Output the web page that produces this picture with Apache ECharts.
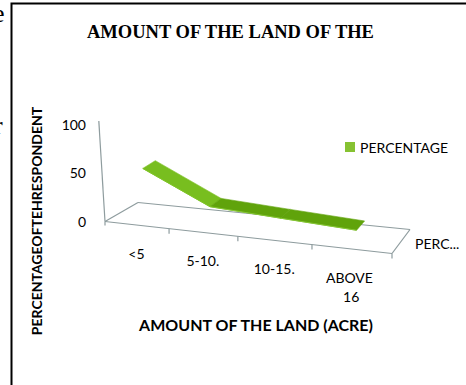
<!DOCTYPE html>
<html>
<head>
<meta charset="utf-8">
<script src="https://cdn.jsdelivr.net/npm/echarts@6/dist/echarts.min.js"></script>
<style>
  html, body { margin: 0; padding: 0; background: #fff; }
  #chart { width: 466px; height: 385px; }
</style>
</head>
<body>
<div id="chart"></div>
<script>
// Excel-style 3D line chart, faked with a flat cartesian grid plus a small
// projection applied inside custom series.

const categories = ["<5", "5-10.", "10-15.", "ABOVE 16"]
const percentage = [52, 20, 16, 12]
const seriesName = "PERCENTAGE"
const depthLabel = "PERC..."
const titleText = "AMOUNT OF THE LAND OF THE"
const xName = "AMOUNT OF THE LAND (ACRE)"
const yName = "PERCENTAGEOFTEHRESPONDENT"

// Projection constants (front floor edge slope, depth vectors at the left and
// right ends, lean of the value axis, foreshortening along the categories).
const FRONT_SLOPE = 32 / 287
const DEPTH_LEFT = [33, -19]
const DEPTH_RIGHT = [18, -24]
const LEAN = 6
const PERSP = 1.16
const RIBBON = [0.3, 0.7]
const LINE = "#8E9C9E"
const FONT = "Lato, 'Open Sans', sans-serif"

const makeProjector = (rect) => (t, v, d) => {
  const tt = t / (PERSP + (1 - PERSP) * t)
  const fx = rect.x + rect.width * tt
  const fy = rect.y + rect.height + rect.width * tt * FRONT_SLOPE
  const dx = DEPTH_LEFT[0] + (DEPTH_RIGHT[0] - DEPTH_LEFT[0]) * tt
  const dy = DEPTH_LEFT[1] + (DEPTH_RIGHT[1] - DEPTH_LEFT[1]) * tt
  return [fx + dx * d - LEAN * v, fy + dy * d - rect.height * v]
}

// pixel from api.coord -> normalized (t, v) inside the grid
const toUnit = (rect, p) => [
  (p[0] - rect.x) / rect.width,
  (rect.y + rect.height - p[1]) / rect.height,
]

const line = (a, b, width) => ({
  type: "line",
  shape: {x1: a[0], y1: a[1], x2: b[0], y2: b[1]},
  style: {stroke: LINE, lineWidth: width || 1.2},
})

const renderFrame = (params, api) => {
  const rect = params.coordSys
  const P = makeProjector(rect)
  const i = params.dataIndex
  const bw = api.size([1, 0])[0]
  const c = toUnit(rect, api.coord([i, 0]))
  const tEdge = c[0] + bw / 2 / rect.width
  const children = []

  // tick at the right boundary of this category
  const tp = P(tEdge, 0, 0)
  children.push(line(tp, [tp[0], tp[1] + 5]))

  // category label under the front edge
  const lp = P(c[0], 0, 0)
  children.push({
    type: "text",
    x: lp[0],
    y: lp[1] + 19,
    style: {
      text: categories[i],
      width: 52,
      overflow: "break",
      align: "center",
      verticalAlign: "top",
      lineHeight: 19,
      font: "14px " + FONT,
      fill: "#000",
    },
  })

  if (i === 0) {
    const fl = P(0, 0, 0), fr = P(1, 0, 0)
    const bl = P(0, 0, 1), br = P(1, 0, 1)
    children.push(line(fl, fr), line(bl, br), line(fl, bl), line(fr, br))
    children.push(line(fl, P(0, 1.03, 0)))
    children.push(line(fl, [fl[0], fl[1] + 4]))
    const dp = P(1, 0, 0.5)
    children.push({
      type: "text",
      x: dp[0] + 14,
      y: dp[1] + 2,
      style: {
        text: depthLabel,
        align: "left",
        verticalAlign: "middle",
        font: "14px " + FONT,
        fill: "#000",
      },
    })
  }
  return {type: "group", children}
}

const renderRibbon = (params, api) => {
  const i = params.dataIndex
  if (i >= percentage.length - 1) return null
  const rect = params.coordSys
  const P = makeProjector(rect)
  const a = toUnit(rect, api.coord([i, percentage[i]]))
  const b = toUnit(rect, api.coord([i + 1, percentage[i + 1]]))
  const steep = Math.abs(percentage[i] - percentage[i + 1]) > 15
  const pts = [
    P(a[0], a[1], RIBBON[0]),
    P(b[0], b[1], RIBBON[0]),
    P(b[0], b[1], RIBBON[1]),
    P(a[0], a[1], RIBBON[1]),
  ]
  return {
    type: "group",
    children: [
      {
        type: "polygon",
        shape: {points: pts},
        style: {fill: steep ? "#78BE1F" : "#60A30B", stroke: steep ? "#78BE1F" : "#60A30B", lineWidth: 0.6},
      },
      {
        type: "line",
        shape: {x1: pts[0][0], y1: pts[0][1], x2: pts[1][0], y2: pts[1][1]},
        style: {stroke: steep ? "#7FC426" : "#86C734", lineWidth: 1},
      },
    ],
  }
}

const chart = echarts.init(document.getElementById("chart"), null, {renderer: "svg"})

chart.setOption({
  animation: false,
  title: {
    text: titleText,
    left: 82,
    top: 17,
    textStyle: {
      fontFamily: "'Liberation Serif', 'Times New Roman', serif",
      fontWeight: "bold",
      fontSize: 18.5,
      color: "#000",
    },
  },
  legend: {
    data: [{name: seriesName, icon: "rect"}],
    left: 340,
    top: 135,
    itemWidth: 10,
    itemHeight: 10,
    textStyle: {fontFamily: FONT, fontSize: 14, color: "#000"},
  },
  grid: {left: 105, right: 74, top: 124, bottom: 163.5},
  xAxis: {
    type: "category",
    data: categories,
    axisLine: {show: false},
    axisTick: {show: false},
    axisLabel: {show: false},
    splitLine: {show: false},
  },
  yAxis: {
    type: "value",
    min: 0,
    max: 100,
    interval: 50,
    axisLine: {show: false},
    axisTick: {show: false},
    splitLine: {show: false},
    axisLabel: {margin: 19, fontFamily: FONT, fontSize: 14, color: "#000"},
  },
  graphic: [
    {
      type: "rect",
      shape: {x: 11.5, y: 3.5, width: 600, height: 600},
      style: {fill: "none", stroke: "#000", lineWidth: 2},
    },
    {
      type: "text",
      x: 36,
      y: 221,
      rotation: Math.PI / 2,
      style: {
        text: yName,
        align: "center",
        verticalAlign: "middle",
        font: "bold 14px " + FONT,
        fill: "#000",
      },
    },
    {
      type: "text",
      x: 256,
      y: 324,
      style: {
        text: xName,
        align: "center",
        verticalAlign: "middle",
        font: "bold 16px " + FONT,
        fill: "#000",
      },
    },
    {
      type: "text",
      x: -7,
      y: 0,
      style: {text: "e", font: "26px 'Liberation Serif', serif", fill: "#000"},
    },
    {
      type: "text",
      x: -6,
      y: 112,
      style: {text: "r", font: "26px 'Liberation Serif', serif", fill: "#000"},
    },
  ],
  series: [
    {
      name: "frame",
      type: "custom",
      silent: true,
      z: 1,
      data: categories.map((_, i) => [i, 0]),
      encode: {x: 0, y: 1},
      renderItem: renderFrame,
    },
    {
      name: seriesName,
      type: "custom",
      z: 2,
      itemStyle: {color: "#86C232"},
      data: percentage.map((v, i) => [i, v]),
      encode: {x: 0, y: 1},
      renderItem: renderRibbon,
    },
  ],
})
</script>
</body>
</html>
